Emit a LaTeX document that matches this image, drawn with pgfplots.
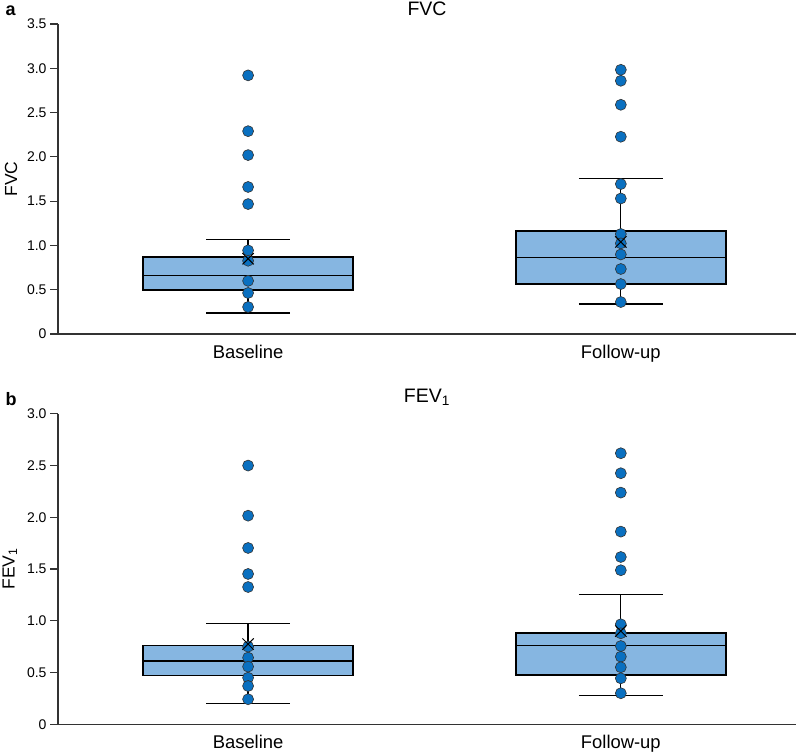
\documentclass[border=0pt]{standalone}
\usepackage{pgfplots}
\pgfplotsset{compat=1.18}
\usepgfplotslibrary{statistics}
\usepackage{fontspec}
\setmainfont{Liberation Sans}
\definecolor{boxfill}{HTML}{86B6E1}
\definecolor{dotfill}{HTML}{0A70C0}
\definecolor{axgray}{HTML}{333333}
\pgfplotsset{
  panel/.style={
    scale only axis, width=738bp,
    xmin=-0.51, xmax=1.47,
    axis x line*=bottom, axis y line*=left,
    axis line style={axgray, line width=1.1bp},
    xtick={0,1}, xticklabels={Baseline,Follow-up},
    x tick label style={font=\fontsize{18.4bp}{20bp}\selectfont, inner sep=0pt, yshift=-3bp},
    major x tick style={draw=none},
    tick align=outside, major tick length=8bp,
    y tick style={axgray, line width=1.1bp},
    y tick label style={font=\fontsize{14bp}{16bp}\selectfont},
    /pgf/number format/assume math mode=true,
    ylabel style={font=\fontsize{17.5bp}{19bp}\selectfont, yshift=3bp},
    title style={font=\fontsize{19.5bp}{21bp}\selectfont, yshift=-1bp},
    boxplot/draw direction=y,
    clip=false,
  },
  bx/.style={draw=black, line width=1.6bp, fill=boxfill, solid,
    boxplot/box extend=0.563, boxplot/whisker extend=0.225,
    boxplot/every whisker/.style={line width=1.2bp}},
  dots/.style={only marks, mark=*, mark size=5.5bp,
    mark options={fill=dotfill, draw=black!80, line width=0.6bp}},
  meanx/.style={only marks, mark=x, mark size=8bp,
    mark options={draw=black, line width=1.0bp}},
}
\begin{document}
\begin{tikzpicture}
\useasboundingbox (0,0) rectangle (796bp,752bp);
% ---- panel a ----
\begin{axis}[panel, at={(58bp,418bp)}, anchor=south west, height=310bp,
  ymin=0, ymax=3.5, ytick={0,0.5,1,1.5,2,2.5,3,3.5},
  yticklabels={0,0.5,1.0,1.5,2.0,2.5,3.0,3.5},
  ylabel={FVC}, title={FVC}]
\addplot[bx, boxplot prepared={draw position=0, lower whisker=0.237,
  lower quartile=0.497, median=0.661, upper quartile=0.869,
  upper whisker=1.064}] coordinates {};
\addplot[bx, boxplot prepared={draw position=1, lower whisker=0.339,
  lower quartile=0.564, median=0.865, upper quartile=1.166,
  upper whisker=1.756}] coordinates {};
\addplot[dots] coordinates {
  (0,2.92) (0,2.29) (0,2.02) (0,1.66) (0,1.467) (0,0.944) (0,0.827)
  (0,0.60) (0,0.463) (0,0.305)
  (1,2.983) (1,2.859) (1,2.588) (1,2.227) (1,1.693) (1,1.53) (1,1.129)
  (1,1.023) (1,0.898) (1,0.734) (1,0.564) (1,0.361)};
\addplot[meanx] coordinates {(0,0.85) (1,1.04)};
\end{axis}
\node[font=\bfseries\fontsize{18bp}{19bp}\selectfont, anchor=base west] at (2bp,736bp) {a};
% ---- panel b ----
\begin{axis}[panel, at={(58bp,27.7bp)}, anchor=south west, height=310.6bp,
  ymin=0, ymax=3.0, ytick={0,0.5,1,1.5,2,2.5,3},
  yticklabels={0,0.5,1.0,1.5,2.0,2.5,3.0},
  ylabel={FEV\textsubscript{1}}, title={FEV\textsubscript{1}}]
\addplot[bx, boxplot prepared={draw position=0, lower whisker=0.203,
  lower quartile=0.470, median=0.612, upper quartile=0.760,
  upper whisker=0.972}] coordinates {};
\addplot[bx, boxplot prepared={draw position=1, lower whisker=0.277,
  lower quartile=0.479, median=0.760, upper quartile=0.882,
  upper whisker=1.256}] coordinates {};
\addplot[dots] coordinates {
  (0,2.499) (0,2.015) (0,1.703) (0,1.452) (0,1.326) (0,0.75) (0,0.644)
  (0,0.557) (0,0.45) (0,0.37) (0,0.242)
  (1,2.618) (1,2.425) (1,2.238) (1,1.861) (1,1.616) (1,1.488) (1,0.966)
  (1,0.879) (1,0.756) (1,0.653) (1,0.551) (1,0.444) (1,0.30)};
\addplot[meanx] coordinates {(0,0.775) (1,0.90)};
\end{axis}
\node[font=\bfseries\fontsize{18bp}{19bp}\selectfont, anchor=base west] at (2bp,346bp) {b};
\end{tikzpicture}
\end{document}
